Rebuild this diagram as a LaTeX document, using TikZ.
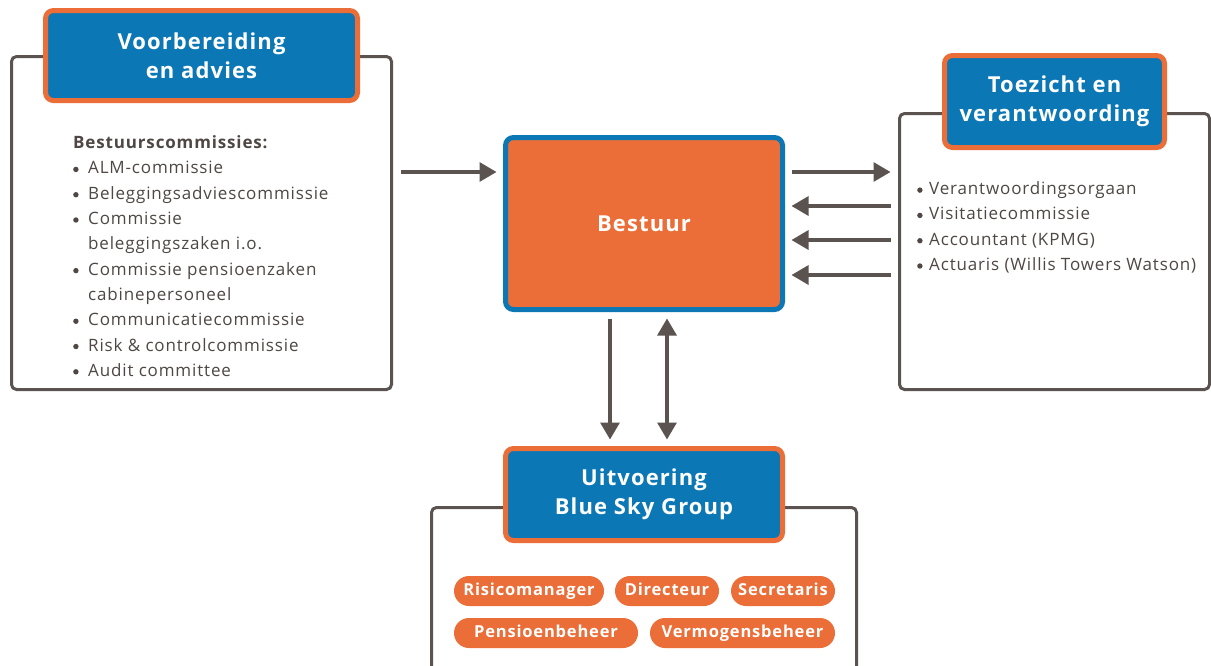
\documentclass[tikz,border=0pt]{standalone}
\usepackage{fontspec}
\setmainfont{Open Sans}[LetterSpace=5]
\usetikzlibrary{arrows.meta,positioning,calc}
\definecolor{klmblue}{HTML}{0B77B5}
\definecolor{klmorange}{HTML}{EB6D37}
\definecolor{framegray}{HTML}{5B5350}
\definecolor{textgray}{HTML}{4E4744}
\newcommand{\bul}[1][15pt]{\makebox[#1][l]{\tikz[baseline=-4.5pt]\fill (0,0) circle (2.7pt);}}

\begin{document}
\begin{tikzpicture}[x=1pt, y=-1pt,
        frame/.style={draw=framegray, line width=3pt, rounded corners=5pt, fill=white, inner sep=0pt, outer sep=0pt},
        header/.style={draw=klmorange, fill=klmblue, line width=5pt, rounded corners=8pt, text=white,
            font=\fontsize{22}{29}\selectfont\bfseries, align=center, inner sep=0pt, outer sep=0pt, minimum height=92pt},
        board/.style={draw=klmblue, fill=klmorange, line width=5pt, rounded corners=8pt, text=white,
            font=\fontsize{22}{29}\selectfont\bfseries, inner sep=0pt, outer sep=0pt},
        pill/.style={fill=klmorange, rounded corners=15pt, minimum height=30pt, text=white,
            font=\fontsize{16.5}{20}\selectfont\bfseries, inner sep=0pt, text height=12pt, text depth=3.5pt},
        list/.style={text=textgray, font=\fontsize{17}{25.3}\selectfont, align=left, inner sep=0pt, anchor=north west},
        arr/.style={draw=framegray, line width=3.2pt, shorten <=9pt, shorten >=9pt, -{Triangle[length=17pt,width=19pt]}},
        both/.style={{Triangle[length=17pt,width=19pt]}-{Triangle[length=17pt,width=19pt]}}]
    \useasboundingbox (0,0) rectangle (1211,665);

    \node[frame, minimum width=380pt, minimum height=333pt] (advbox) at (201.5,223) {};
    \node[header, minimum width=312pt, minimum height=90pt] (advhead) at (201.5,55.5) {Voorbereiding\\en advies};
    \node[list] (advlist) at (73,135.5) {\textbf{Bestuurscommissies:}\\
        \bul ALM-commissie\\
        \bul Beleggingsadviescommissie\\
        \bul Commissie\\
        \hspace*{15pt}beleggingszaken i.o.\\
        \bul Commissie pensioenzaken\\
        \hspace*{15pt}cabinepersoneel\\
        \bul Communicatiecommissie\\
        \bul Risk \& controlcommissie\\
        \bul Audit committee};

    \node[board, minimum width=277pt, minimum height=172pt] (bestuur) at (644,223.5) {Bestuur};

    \node[frame, minimum width=310pt, minimum height=276pt] (toebox) at (1054.5,251.5) {};
    \node[header, minimum width=220pt] (toehead) at (1054.5,101.5) {Toezicht en\\verantwoording};
    \node[list] (toelist) at (917,181.5) {\bul[12pt]Verantwoordingsorgaan\\
        \bul[12pt]Visitatiecommissie\\
        \bul[12pt]Accountant (KPMG)\\
        \bul[12pt]Actuaris (Willis Towers Watson)};

    \node[frame, minimum width=425pt, minimum height=192.5pt] (uitbox) at (644,603.75) {};
    \node[header, minimum width=277pt] (uithead) at (644,494.5) {Uitvoering\\Blue Sky Group};
    \node[pill, minimum width=150pt] (risico) at (529,591) {Risicomanager};
    \node[pill, minimum width=104pt] (directeur) at (667,591) {Directeur};
    \node[pill, minimum width=104pt] (secretaris) at (783,591) {Secretaris};
    \node[pill, minimum width=184pt] (pensioen) at (546,633) {Pensioenbeheer};
    \node[pill, minimum width=185pt] (vermogen) at (742.5,633) {Vermogensbeheer};

    \draw[arr] ($(advbox.east)+(0,-51)$) -- ($(bestuur.west)+(0,-51.5)$);
    \draw[arr] ($(bestuur.east)+(0,-51.5)$) -- ($(bestuur.east -| toebox.west)+(0,-51.5)$);
    \draw[arr] ($(bestuur.east -| toebox.west)+(0,-17.5)$) -- ($(bestuur.east)+(0,-17.5)$);
    \draw[arr] ($(bestuur.east -| toebox.west)+(0,16.5)$) -- ($(bestuur.east)+(0,16.5)$);
    \draw[arr] ($(bestuur.east -| toebox.west)+(0,51.5)$) -- ($(bestuur.east)+(0,51.5)$);
    \draw[arr] ($(bestuur.south)+(-34,0)$) -- ($(uithead.north)+(-34,0)$);
    \draw[arr, both] ($(bestuur.south)+(23,0)$) -- ($(uithead.north)+(23,0)$);
\end{tikzpicture}
\end{document}
